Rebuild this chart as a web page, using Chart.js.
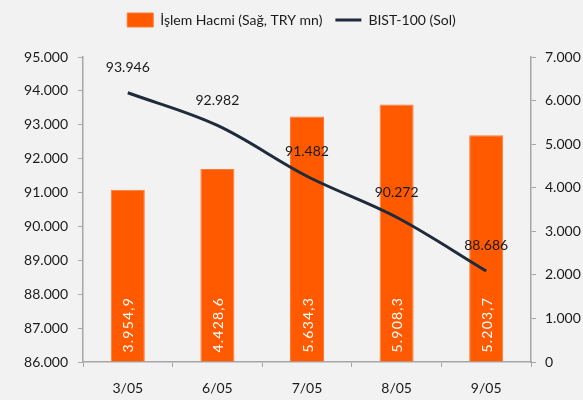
<!DOCTYPE html>
<html>
<head>
<meta charset="utf-8">
<script src="https://cdn.jsdelivr.net/npm/chart.js@4"></script>
<style>
  html, body { margin: 0; padding: 0; background: #f2f2f2; }
  #wrap { width: 583px; height: 400px; }
</style>
</head>
<body>
<div id="wrap"><canvas id="chart" width="583" height="400"></canvas></div>
<script>
// chart data
const categories = ['3/05', '6/05', '7/05', '8/05', '9/05'];
const volumeValues = [3954.9, 4428.6, 5634.3, 5908.3, 5203.7]; // İşlem Hacmi, right axis
const bistValues = [93946, 92982, 91482, 90272, 88686];       // BIST-100, left axis
const leftTicks = [86000, 87000, 88000, 89000, 90000, 91000, 92000, 93000, 94000, 95000];
const rightTicks = [0, 1000, 2000, 3000, 4000, 5000, 6000, 7000];

const FONT = 'Lato, "Open Sans", sans-serif';

// Turkish number format: "." thousands, "," decimals
function fmt(v, decimals) {
    const parts = v.toFixed(decimals).split('.');
    parts[0] = parts[0].replace(/\B(?=(\d{3})+(?!\d))/g, '.');
    return parts.join(',');
}

// extra room under the legend so the plot starts lower
const legendGap = {
    id: 'legendGap',
    afterInit(chart) {
        const fit = chart.legend.fit;
        chart.legend.fit = function () {
            fit.call(this);
            this.height += 20;
        };
    }
};

// draw value labels for both datasets
const valueLabels = {
    id: 'valueLabels',
    afterDatasetsDraw(chart) {
        const ctx = chart.ctx;
        ctx.save();
        ctx.font = '14px ' + FONT;
        // bar labels: white, rotated, sitting at the bar base
        chart.getDatasetMeta(1).data.forEach((bar, i) => {
            ctx.save();
            ctx.translate(bar.x, bar.base - 9);
            ctx.rotate(-Math.PI / 2);
            ctx.fillStyle = '#ffffff';
            ctx.textAlign = 'left';
            ctx.textBaseline = 'middle';
            ctx.letterSpacing = '1.2px';
            ctx.fillText(fmt(volumeValues[i], 1), 0, 1);
            ctx.restore();
        });
        // line labels above points
        ctx.fillStyle = '#1a1a1a';
        ctx.textAlign = 'center';
        ctx.textBaseline = 'middle';
        chart.getDatasetMeta(0).data.forEach((pt, i) => {
            ctx.fillText(fmt(bistValues[i], 0), pt.x, pt.y - 25);
        });
        ctx.restore();
    }
};

const ctx = document.getElementById('chart').getContext('2d');
const chart = new Chart(ctx, {
    type: 'bar',
    data: {
        labels: categories,
        datasets: [
            {
                type: 'line',
                label: 'BIST-100 (Sol)',
                data: bistValues,
                yAxisID: 'yLeft',
                borderColor: '#1f2a3a',
                backgroundColor: '#1f2a3a',
                borderWidth: 3,
                pointRadius: 0,
                tension: 0.35,
                fill: false,
                order: 0,
                pointStyle: 'line'
            },
            {
                type: 'bar',
                label: 'İşlem Hacmi (Sağ, TRY mn)',
                data: volumeValues,
                yAxisID: 'yRight',
                backgroundColor: '#ff5a00',
                borderColor: '#ff7a33',
                borderWidth: 1,
                barPercentage: 0.38,
                categoryPercentage: 1,
                order: 1,
                pointStyle: 'rect'
            }
        ]
    },
    options: {
        responsive: false,
        animation: false,
        layout: { padding: { left: 0, right: 0, top: 0, bottom: 0 } },
        plugins: {
            legend: {
                position: 'top',
                reverse: true,
                labels: {
                    usePointStyle: true,
                    pointStyleWidth: 26,
                    boxHeight: 14,
                    padding: 13,
                    color: '#1a1a1a',
                    font: { family: FONT, size: 14 }
                }
            },
            tooltip: { enabled: false }
        },
        scales: {
            x: {
                offset: true,
                grid: { display: true, drawOnChartArea: false, offset: true, tickLength: 5, color: '#a6a6a6' },
                border: { color: '#a6a6a6', width: 1.5 },
                ticks: { color: '#1a1a1a', font: { family: FONT, size: 14 }, padding: 13 },
                afterFit(scale) { scale.height = 38; }
            },
            yLeft: {
                position: 'left',
                min: 86000,
                max: 95000,
                afterBuildTicks(scale) { scale.ticks = leftTicks.map(v => ({ value: v })); },
                grid: { display: true, drawOnChartArea: false, tickLength: 5, color: '#a6a6a6' },
                border: { color: '#a6a6a6', width: 1.5 },
                ticks: {
                    color: '#1a1a1a',
                    font: { family: FONT, size: 14 },
                    padding: 10,
                    callback: v => fmt(v, 0)
                },
                afterFit(scale) { scale.width = 83; }
            },
            yRight: {
                position: 'right',
                min: 0,
                max: 7000,
                afterBuildTicks(scale) { scale.ticks = rightTicks.map(v => ({ value: v })); },
                grid: { display: true, drawOnChartArea: false, tickLength: 5, color: '#a6a6a6' },
                border: { color: '#a6a6a6', width: 1.5 },
                ticks: {
                    color: '#1a1a1a',
                    font: { family: FONT, size: 14 },
                    padding: 9,
                    callback: v => fmt(v, 0)
                },
                afterFit(scale) { scale.width = 52; }
            }
        }
    },
    plugins: [legendGap, valueLabels]
});
</script>
</body>
</html>
